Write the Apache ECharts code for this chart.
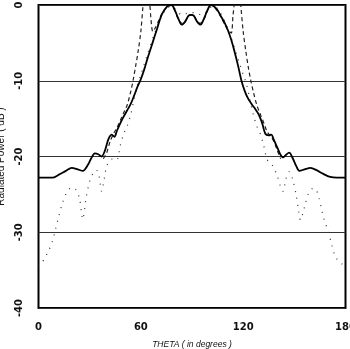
<!DOCTYPE html>
<html>
<head>
<meta charset="utf-8">
<script src="https://cdn.jsdelivr.net/npm/echarts@6/dist/echarts.min.js"></script>
<style>
  html, body { margin: 0; padding: 0; background: #fff; }
  #main { width: 350px; height: 349px; }
</style>
</head>
<body>
<div id="main"></div>
<script>
// measured pattern (solid)
var solidTheta = [0, 8, 12, 16, 19.5, 23, 26, 29, 31, 33, 35, 37, 39, 41, 43, 44.5, 46, 48, 50, 52, 54, 56, 58, 60, 62, 64, 66, 68, 70, 72, 74, 76, 78, 80, 82, 84, 86, 88, 89.5, 91, 93, 95, 97, 99, 101, 103, 105, 107, 109, 111, 113, 115, 117, 119, 121, 123, 125, 127, 129, 131, 133, 135, 136.5, 138, 140, 142, 143.5, 145, 147, 149, 151, 153, 156, 159.5, 163, 167, 171, 175, 180];
var solidDb = [-22.8, -22.8, -22.4, -21.9, -21.5, -21.7, -21.9, -21.1, -20.2, -19.6, -19.7, -20.0, -19.2, -17.7, -17.1, -17.4, -16.6, -15.6, -14.7, -13.9, -13.1, -12.0, -10.8, -9.8, -8.5, -7.0, -5.6, -4.2, -2.8, -1.4, -0.6, -0.1, 0, -0.7, -1.8, -2.6, -2.2, -1.4, -1.3, -1.4, -2.2, -2.6, -1.8, -0.7, 0, -0.2, -0.7, -1.5, -2.3, -3.3, -4.6, -6.2, -8.0, -10.0, -11.4, -12.4, -13.1, -13.7, -14.4, -15.5, -17.0, -17.2, -17.1, -17.8, -18.8, -19.8, -20.1, -19.8, -19.5, -20.2, -21.2, -21.9, -21.7, -21.5, -21.8, -22.3, -22.7, -22.8, -22.8];

// dashed pattern
var dashTheta = [38, 40, 42, 44, 46, 48, 50, 52, 54, 55.5, 57, 58.5, 60, 61.3, 62.5, 64, 65.3, 66, 67, 68.5, 70, 72, 74, 76, 78, 80, 82, 84, 86, 88, 89.5, 91, 93, 95, 97, 99, 101, 103, 105, 107, 109, 111, 113, 114, 114.7, 116, 117.5, 118.6, 120, 121.5, 123, 124.5, 126, 128, 130, 132, 134, 136, 138, 140, 142];
var dashDb = [-20.3, -19.5, -18.0, -17.0, -16.2, -15.2, -14.2, -13.2, -11.5, -9.9, -8.0, -6.0, -3.5, 0, 3, 3, 0, -2.0, -3.5, -3.0, -2.3, -1.3, -0.6, -0.2, 0, -0.8, -1.9, -2.4, -2.1, -1.4, -1.3, -1.4, -2.1, -2.4, -1.9, -0.8, 0, -0.3, -0.8, -1.6, -2.5, -3.3, -3.7, -1.5, 0, 3, 3, 0, -3.5, -6.0, -8.2, -10.0, -11.5, -13.2, -14.4, -15.5, -16.7, -17.3, -18.0, -19.2, -20.3];

// dotted pattern
var dotTheta = [0, 2, 4, 6, 8, 10, 12, 14, 16, 18, 20, 22, 24, 26, 27, 28, 30, 32, 34, 35.5, 37, 38.5, 40, 42, 44, 46, 48, 50, 52, 54, 56, 58, 60, 62, 64, 66, 68, 70, 72, 74, 76, 78, 80, 82, 84, 86, 88, 90, 92, 94, 96, 98, 100, 102, 104, 106, 108, 110, 112, 114, 116, 118, 120, 122, 124, 126, 128, 130, 132, 134, 136, 138, 140, 142, 143.5, 145, 147, 149, 151, 152.6, 153.6, 155, 156.5, 158.5, 161, 163, 164.5, 166, 167, 168.5, 170, 172, 174, 176, 178, 180];
var dotDb = [-34.5, -34.0, -33.3, -32.4, -31.3, -29.6, -27.8, -26.2, -25.0, -24.3, -24.1, -24.4, -25.5, -28.3, -27.0, -25.3, -23.3, -22.2, -21.8, -22.6, -24.6, -23.0, -21.2, -20.6, -20.2, -20.4, -18.5, -17.0, -16.0, -14.5, -12.5, -10.5, -9.2, -7.8, -6.4, -5.0, -3.8, -2.6, -1.6, -0.8, -0.3, -0.2, -0.5, -1.0, -1.3, -1.2, -1.0, -1.0, -1.0, -1.2, -1.3, -1.0, -0.5, -0.2, -0.3, -0.8, -1.6, -2.6, -3.8, -5.0, -6.4, -7.8, -9.2, -10.5, -12.5, -14.5, -16.0, -17.0, -18.5, -20.4, -20.8, -21.5, -22.6, -24.0, -24.6, -23.0, -22.0, -23.0, -25.0, -27.3, -28.4, -27.5, -26.2, -24.8, -24.2, -24.5, -25.5, -27.0, -28.0, -29.0, -30.0, -31.7, -33.2, -33.8, -34.2, -34.5];

function pairs(xs, ys) {
  return xs.map(function (x, i) { return [x, ys[i]]; });
}

var chart = echarts.init(document.getElementById('main'));
var labelFont = { color: '#111', fontSize: 10, fontWeight: 'bold', fontFamily: 'DejaVu Sans' };

chart.setOption({
  animation: false,
  grid: {
    left: 38.5, right: 4.5, top: 5, bottom: 41,
    outerBoundsMode: 'none',
    show: true, borderColor: '#000', borderWidth: 2
  },
  xAxis: {
    type: 'value', min: 0, max: 180, interval: 60,
    name: 'THETA ( in degrees )',
    nameLocation: 'middle', nameGap: 32,
    nameTextStyle: { color: '#111', fontSize: 8.5, fontStyle: 'italic', fontFamily: 'Liberation Sans' },
    axisLine: { show: false },
    axisTick: { show: false },
    splitLine: { show: false },
    axisLabel: Object.assign({ margin: 14 }, labelFont)
  },
  yAxis: {
    type: 'value', min: -40, max: 0, interval: 10,
    name: 'Radiated Power ( dB )',
    nameLocation: 'middle', nameGap: 26,
    nameTextStyle: { color: '#111', fontSize: 10, fontFamily: 'Liberation Sans' },
    axisLine: { show: false },
    axisTick: { show: false },
    splitLine: { lineStyle: { color: '#333', width: 1 } },
    axisLabel: Object.assign({ rotate: 90, margin: 14 }, labelFont)
  },
  series: [
    {
      type: 'line', data: pairs(dotTheta, dotDb), showSymbol: false, smooth: 0.3,
      lineStyle: { color: '#333', width: 1.2, type: [1, 6] }
    },
    {
      type: 'line', data: pairs(dashTheta, dashDb), showSymbol: false, smooth: 0.3,
      lineStyle: { color: '#222', width: 1.2, type: [4, 3] }
    },
    {
      type: 'line', data: pairs(solidTheta, solidDb), showSymbol: false, smooth: 0.3,
      lineStyle: { color: '#000', width: 1.8 }
    }
  ]
});
</script>
</body>
</html>
